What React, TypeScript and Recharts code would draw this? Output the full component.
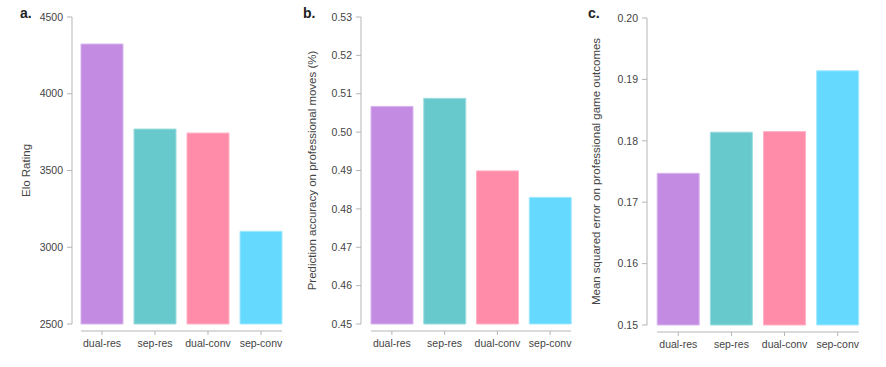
import React from 'react';
import { BarChart, Bar, XAxis, YAxis, Cell, ReferenceLine } from 'recharts';

const CATEGORIES = ['dual-res', 'sep-res', 'dual-conv', 'sep-conv'];
const ELO = [4324, 3770, 3744, 3104];
const ACCURACY = [0.5067, 0.5088, 0.4899, 0.483];
const MSE = [0.1747, 0.1814, 0.1815, 0.1914];

const ELO_TICKS = [2500, 3000, 3500, 4000, 4500];
const ACC_TICKS = [0.45, 0.46, 0.47, 0.48, 0.49, 0.5, 0.51, 0.52, 0.53];
const MSE_TICKS = [0.15, 0.16, 0.17, 0.18, 0.19, 0.2];

const COLORS = ['#c38be2', '#68c9cd', '#ff8daa', '#66d9ff'];
const EDGES = ['#d8b4ef', '#9bdcdf', '#ffb3c6', '#a3e9ff'];

const FONT = '"Liberation Sans", Arial, Helvetica, sans-serif';
const AXIS = '#b5b5b5';
const TEXT = '#444';
const GAP = 5.5;

const XTick = (props: any) => {
    const { x, y, payload } = props;
    return (
        <g>
            <line x1={x} x2={x} y1={y + 7} y2={y + 11} stroke={AXIS} />
            <text x={x} y={y + 23} textAnchor="middle" fill={TEXT} fontSize={10.5} fontFamily={FONT}>
                {payload.value}
            </text>
        </g>
    );
};

type PanelProps = {
    letter: string;
    left: number;
    width: number;
    values: number[];
    ticks: number[];
    digits: number;
    label: string;
    yWidth: number;
    padLeft: number;
    top: number;
    bottom: number;
    right: number;
    labelDx: number;
    letterX: number;
};

function Panel(p: PanelProps) {
    const data = CATEGORIES.map((name, i) => ({ name, value: p.values[i] }));
    const lo = p.ticks[0];
    const hi = p.ticks[p.ticks.length - 1];
    const inset = p.padLeft + GAP;
    return (
        <div style={{ position: 'absolute', left: p.left, top: 0, width: p.width, height: 367 }}>
            <BarChart
                width={p.width}
                height={367}
                data={data}
                margin={{ top: p.top, right: p.right, bottom: p.bottom, left: 0 }}
                barCategoryGap={GAP}
            >
                <XAxis
                    dataKey="name"
                    axisLine={false}
                    tickLine={false}
                    tickSize={0}
                    tickMargin={0}
                    height={30}
                    interval={0}
                    padding={{ left: p.padLeft, right: 0 }}
                    tick={<XTick />}
                />
                <YAxis
                    type="number"
                    domain={[lo, hi]}
                    ticks={p.ticks}
                    width={p.yWidth}
                    stroke={AXIS}
                    tickSize={5}
                    tickMargin={4}
                    tick={{ fill: TEXT, fontSize: 10.5, fontFamily: FONT }}
                    tickFormatter={(v: number) => (p.digits ? v.toFixed(p.digits) : String(v))}
                    label={{
                        value: p.label,
                        angle: -90,
                        position: 'center',
                        dx: p.labelDx,
                        fill: TEXT,
                        fontSize: 11.5,
                        fontFamily: FONT,
                    }}
                />
                <ReferenceLine
                    y={lo}
                    shape={(s: any) => (
                        <line
                            x1={s.x1 + inset}
                            x2={s.x2 - GAP}
                            y1={s.y1 + 7}
                            y2={s.y2 + 7}
                            stroke={AXIS}
                            strokeWidth={1.2}
                        />
                    )}
                />
                <Bar dataKey="value" isAnimationActive={false} strokeWidth={1}>
                    {data.map((d, i) => (
                        <Cell key={d.name} fill={COLORS[i]} stroke={EDGES[i]} />
                    ))}
                </Bar>
            </BarChart>
            <div
                style={{
                    position: 'absolute',
                    left: p.letterX,
                    top: 5.5,
                    fontSize: 14,
                    lineHeight: '14px',
                    fontWeight: 700,
                    color: '#222',
                    fontFamily: FONT,
                }}
            >
                {p.letter}
            </div>
        </div>
    );
}

export default function App() {
    return (
        <div style={{ position: 'absolute', left: 0, top: 0, width: 886, height: 367, background: '#fff' }}>
            <Panel
                letter="a." left={0} width={295} values={ELO} ticks={ELO_TICKS} digits={0}
                label="Elo Rating" yWidth={72} padLeft={3.5} top={17} bottom={13} right={7.5}
                labelDx={-10} letterX={20}
            />
            <Panel
                letter="b." left={290} width={295} values={ACCURACY} ticks={ACC_TICKS} digits={2}
                label="Prediction accuracy on professional moves (%)" yWidth={71} padLeft={4.5}
                top={17} bottom={13} right={8.5} labelDx={-13.5} letterX={13}
            />
            <Panel
                letter="c." left={580} width={306} values={MSE} ticks={MSE_TICKS} digits={2}
                label="Mean squared error on professional game outcomes" yWidth={67} padLeft={4.7}
                top={18} bottom={12} right={21.7} labelDx={-17.5} letterX={8}
            />
        </div>
    );
}
